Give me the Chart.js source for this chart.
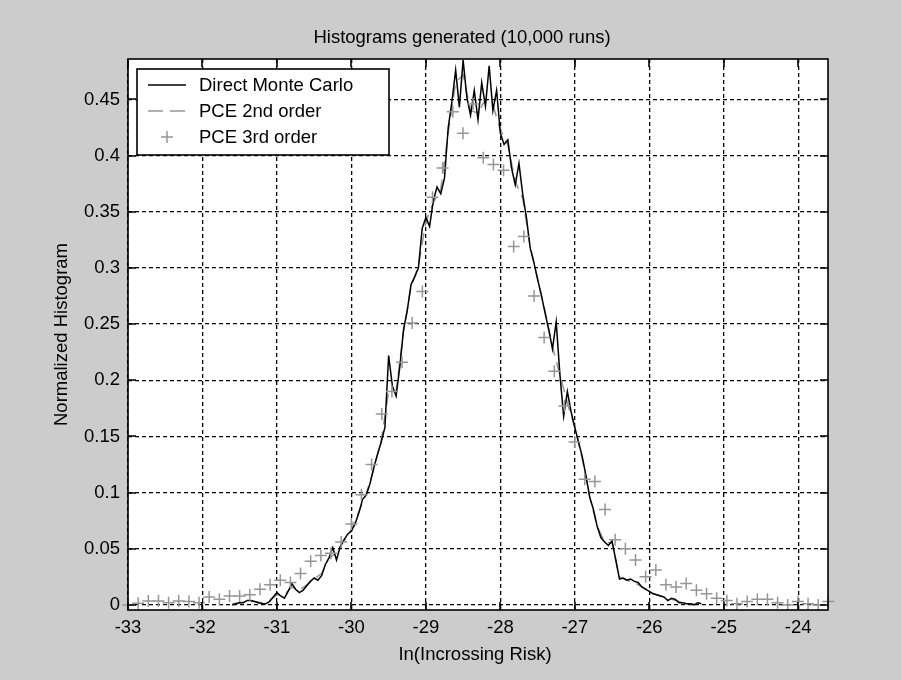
<!DOCTYPE html>
<html>
<head>
<meta charset="utf-8">
<script src="https://cdn.jsdelivr.net/npm/chart.js@4.4.0/dist/chart.umd.min.js"></script>
<style>
  html, body { margin: 0; padding: 0; background: #cccccc; }
  #wrap { width: 901px; height: 680px; }
</style>
</head>
<body>
<div id="wrap"><canvas id="c" width="901" height="680"></canvas></div>
<script>
// Direct Monte Carlo histogram (bin centre, normalized count)
const mcX = [
  -31.60,-31.55,-31.50,-31.45,-31.40,-31.35,-31.30,-31.25,-31.20,-31.15,
  -31.10,-31.05,-31.00,-30.95,-30.90,-30.85,-30.80,-30.75,-30.70,-30.65,
  -30.60,-30.55,-30.50,-30.45,-30.40,-30.35,-30.30,-30.25,-30.20,-30.15,
  -30.10,-30.05,-30.00,-29.95,-29.90,-29.85,-29.80,-29.75,-29.70,-29.65,
  -29.60,-29.55,-29.50,-29.45,-29.40,-29.35,-29.30,-29.25,-29.20,-29.15,
  -29.10,-29.05,-29.00,-28.95,-28.90,-28.85,-28.80,-28.75,-28.70,-28.65,
  -28.60,-28.55,-28.50,-28.45,-28.40,-28.35,-28.30,-28.25,-28.20,-28.15,
  -28.10,-28.05,-28.00,-27.95,-27.90,-27.85,-27.80,-27.75,-27.70,-27.65,
  -27.60,-27.55,-27.50,-27.45,-27.40,-27.35,-27.30,-27.25,-27.20,-27.15,
  -27.10,-27.05,-27.00,-26.95,-26.90,-26.85,-26.80,-26.75,-26.70,-26.65,
  -26.60,-26.55,-26.50,-26.45,-26.40,-26.35,-26.30,-26.25,-26.20,-26.15,
  -26.10,-26.05,-26.00,-25.95,-25.90,-25.85,-25.80,-25.75,-25.70,-25.65,
  -25.60,-25.55,-25.50,-25.45,-25.40,-25.35,-25.30
];
const mcY = [
  0.000,0.001,0.002,0.002,0.004,0.004,0.003,0.002,0.001,0.001,
  0.003,0.007,0.011,0.008,0.006,0.012,0.019,0.014,0.011,0.013,
  0.017,0.021,0.024,0.022,0.026,0.036,0.042,0.051,0.040,0.052,
  0.058,0.063,0.066,0.072,0.082,0.094,0.098,0.108,0.122,0.134,
  0.145,0.158,0.222,0.195,0.186,0.212,0.245,0.262,0.285,0.292,
  0.300,0.335,0.345,0.337,0.360,0.372,0.366,0.380,0.425,0.448,
  0.476,0.443,0.485,0.452,0.436,0.458,0.432,0.465,0.444,0.480,
  0.440,0.458,0.420,0.410,0.414,0.389,0.374,0.393,0.366,0.345,
  0.318,0.305,0.290,0.276,0.260,0.245,0.228,0.252,0.205,0.168,
  0.190,0.172,0.158,0.145,0.132,0.115,0.096,0.085,0.070,0.060,
  0.056,0.053,0.057,0.040,0.023,0.024,0.022,0.023,0.021,0.020,
  0.016,0.014,0.012,0.010,0.009,0.008,0.007,0.004,0.006,0.005,
  0.002,0.002,0.001,0.001,0.000,0.002,0.001
];

// PCE 2nd order histogram
const pce2X = [
  -31.6,-31.5,-31.4,-31.3,-31.2,-31.1,-31.0,-30.9,-30.8,-30.7,
  -30.6,-30.5,-30.4,-30.3,-30.2,-30.1,-30.0,-29.9,-29.8,-29.7,
  -29.6,-29.5,-29.4,-29.3,-29.2,-29.1,-29.0,-28.9,-28.8,-28.7,
  -28.6,-28.5,-28.4,-28.3,-28.2,-28.1,-28.0,-27.9,-27.8,-27.7,
  -27.6,-27.5,-27.4,-27.3,-27.2,-27.1,-27.0,-26.9,-26.8,-26.7,
  -26.6,-26.5,-26.4,-26.3,-26.2,-26.1,-26.0,-25.9,-25.8,-25.7,
  -25.6,-25.5,-25.4
];
const pce2Y = [
  0.001,0.002,0.003,0.003,0.002,0.004,0.009,0.009,0.016,0.013,
  0.018,0.023,0.028,0.042,0.046,0.057,0.067,0.083,0.099,0.121,
  0.146,0.190,0.190,0.243,0.283,0.302,0.341,0.358,0.370,0.420,
  0.465,0.472,0.440,0.438,0.450,0.445,0.423,0.410,0.377,0.362,
  0.320,0.290,0.262,0.230,0.205,0.180,0.158,0.130,0.096,0.070,
  0.056,0.055,0.025,0.022,0.020,0.016,0.012,0.009,0.007,0.005,
  0.003,0.001,0.001
];

// PCE 3rd order histogram
const pce3X = [
  -33.000,-32.864,-32.727,-32.591,-32.455,-32.319,-32.182,-32.046,-31.910,-31.773,
  -31.637,-31.501,-31.364,-31.228,-31.092,-30.955,-30.819,-30.683,-30.547,-30.410,
  -30.274,-30.138,-30.001,-29.865,-29.729,-29.592,-29.456,-29.320,-29.184,-29.047,
  -28.911,-28.775,-28.638,-28.502,-28.366,-28.230,-28.093,-27.957,-27.821,-27.684,
  -27.548,-27.412,-27.275,-27.139,-27.003,-26.867,-26.730,-26.594,-26.458,-26.321,
  -26.185,-26.049,-25.912,-25.776,-25.640,-25.504,-25.367,-25.231,-25.095,-24.958,
  -24.822,-24.686,-24.549,-24.413,-24.277,-24.141,-24.004,-23.868,-23.732,-23.596
];
const pce3Y = [
  0.000,0.0015,0.0035,0.0035,0.002,0.0035,0.003,0.002,0.007,0.005,
  0.008,0.008,0.009,0.014,0.018,0.022,0.020,0.028,0.039,0.044,
  0.046,0.056,0.072,0.098,0.125,0.170,0.190,0.216,0.251,0.279,
  0.363,0.389,0.439,0.420,0.446,0.398,0.392,0.387,0.319,0.328,
  0.275,0.238,0.208,0.177,0.145,0.112,0.110,0.085,0.058,0.050,
  0.040,0.025,0.031,0.018,0.016,0.019,0.013,0.010,0.006,0.004,
  0.001,0.003,0.005,0.005,0.002,0.000,0.003,0.001,0.000,0.003
];

const xTicks = [-33, -32, -31, -30, -29, -28, -27, -26, -25, -24];
const yTicks = [0, 0.05, 0.1, 0.15, 0.2, 0.25, 0.3, 0.35, 0.4, 0.45];
const seriesNames = ['Direct Monte Carlo', 'PCE 2nd order', 'PCE 3rd order'];
const chartTitle = 'Histograms generated (10,000 runs)';
const xTitle = 'In(Incrossing Risk)';
const yTitle = 'Normalized Histogram';

const FONT = '"Liberation Sans", Arial, sans-serif';
const FONT_SIZE = 18.5;
const GRAY = '#969696';

const toPoints = (xs, ys) => xs.map((x, i) => ({ x, y: ys[i] }));

function drawCross(ctx, x, y, r) {
  ctx.beginPath();
  ctx.moveTo(x - r, y); ctx.lineTo(x + r, y);
  ctx.moveTo(x, y - r); ctx.lineTo(x, y + r);
  ctx.stroke();
}

// figure background, axes box, inner tick marks, legend and titles
const frame = {
  id: 'frame',
  beforeDraw(chart) {
    const { ctx, chartArea: a } = chart;
    ctx.save();
    ctx.fillStyle = '#cccccc';
    ctx.fillRect(0, 0, chart.width, chart.height);
    ctx.fillStyle = '#ffffff';
    ctx.fillRect(a.left, a.top, a.right - a.left, a.bottom - a.top);
    ctx.restore();
  },
  afterDraw(chart) {
    const { ctx, chartArea: a, scales } = chart;
    const xs = scales.x, ys = scales.y;
    const tl = 8;
    ctx.save();
    ctx.strokeStyle = '#000';
    ctx.lineWidth = 1.6;
    ctx.setLineDash([]);
    ctx.strokeRect(a.left, a.top, a.right - a.left, a.bottom - a.top);
    ctx.beginPath();
    xTicks.forEach(v => {
      const p = Math.round(xs.getPixelForValue(v));
      ctx.moveTo(p, a.bottom); ctx.lineTo(p, a.bottom - tl);
      ctx.moveTo(p, a.top); ctx.lineTo(p, a.top + tl);
    });
    yTicks.forEach(v => {
      const p = Math.round(ys.getPixelForValue(v));
      ctx.moveTo(a.left, p); ctx.lineTo(a.left + tl, p);
      ctx.moveTo(a.right, p); ctx.lineTo(a.right - tl, p);
    });
    ctx.stroke();

    // legend
    const lx = a.left + 9, ly = a.top + 10, lw = 252, lh = 86;
    ctx.fillStyle = '#ffffff';
    ctx.fillRect(lx, ly, lw, lh);
    ctx.lineWidth = 1.6;
    ctx.strokeStyle = '#000';
    ctx.strokeRect(lx, ly, lw, lh);
    const rows = [ly + 16, ly + 42, ly + 68];
    ctx.font = FONT_SIZE + 'px ' + FONT;
    ctx.textBaseline = 'middle';
    ctx.textAlign = 'left';
    ctx.fillStyle = '#000';
    // Monte Carlo sample
    ctx.lineWidth = 1.5;
    ctx.beginPath(); ctx.moveTo(lx + 11, rows[0]); ctx.lineTo(lx + 49, rows[0]); ctx.stroke();
    // PCE 2nd sample
    ctx.strokeStyle = GRAY;
    ctx.setLineDash([15, 7]);
    ctx.beginPath(); ctx.moveTo(lx + 11, rows[1]); ctx.lineTo(lx + 49, rows[1]); ctx.stroke();
    ctx.setLineDash([]);
    // PCE 3rd sample
    drawCross(ctx, lx + 30, rows[2], 6);
    seriesNames.forEach((s, i) => ctx.fillText(s, lx + 62, rows[i] + 1));

    // titles
    const cy = (a.top + a.bottom) / 2;
    ctx.textAlign = 'center';
    ctx.fillText(chartTitle, 462, 38);
    ctx.fillText(xTitle, 475, 655);
    ctx.translate(62, cy);
    ctx.rotate(-Math.PI / 2);
    ctx.fillText(yTitle, 0, 0);
    ctx.restore();
  }
};

new Chart(document.getElementById('c'), {
  type: 'scatter',
  data: {
    datasets: [
      {
        label: seriesNames[2],
        data: toPoints(pce3X, pce3Y),
        showLine: false,
        pointStyle: 'cross',
        pointRadius: 6,
        borderColor: GRAY,
        borderWidth: 1.5,
        backgroundColor: GRAY,
        clip: false,
        order: 0
      },
      {
        label: seriesNames[0],
        data: toPoints(mcX, mcY),
        showLine: true,
        borderColor: '#000000',
        borderWidth: 1.5,
        pointRadius: 0,
        tension: 0,
        order: 1
      },
      {
        label: seriesNames[1],
        data: toPoints(pce2X, pce2Y),
        showLine: true,
        borderColor: GRAY,
        borderWidth: 1.5,
        borderDash: [12, 7],
        pointRadius: 0,
        tension: 0,
        order: 2
      }
    ]
  },
  options: {
    responsive: false,
    devicePixelRatio: 1,
    animation: false,
    events: [],
    layout: { padding: { left: 0, top: 59, right: 73, bottom: 0 } },
    plugins: {
      legend: { display: false },
      title: { display: false },
      tooltip: { enabled: false }
    },
    scales: {
      x: {
        type: 'linear',
        min: -33,
        max: -23.6,
        afterBuildTicks: s => { s.ticks = xTicks.map(v => ({ value: v })); },
        afterFit: s => { s.height = 70; },
        grid: { color: '#000', lineWidth: 1.3, drawTicks: false },
        border: { display: false, dash: [4, 3] },
        ticks: {
          color: '#000',
          font: { family: FONT, size: FONT_SIZE },
          padding: 7,
          maxRotation: 0,
          autoSkip: false,
          callback: v => String(v)
        }
      },
      y: {
        type: 'linear',
        min: -0.0045,
        max: 0.486,
        afterBuildTicks: s => { s.ticks = yTicks.map(v => ({ value: v })); },
        afterFit: s => { s.width = 128; },
        grid: { color: '#000', lineWidth: 1.3, drawTicks: false },
        border: { display: false, dash: [4, 3] },
        ticks: {
          color: '#000',
          font: { family: FONT, size: FONT_SIZE },
          padding: 8,
          autoSkip: false,
          callback: v => String(v)
        }
      }
    }
  },
  plugins: [frame]
});
</script>
</body>
</html>
